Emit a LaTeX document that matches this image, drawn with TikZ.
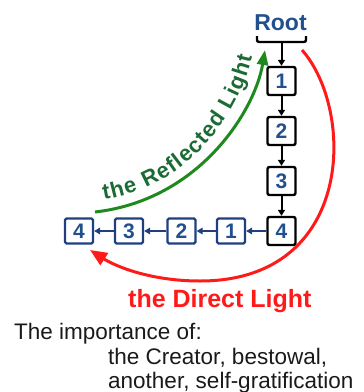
\documentclass[tikz,border=0pt]{standalone}
\usepackage{fontspec}
\setmainfont{Liberation Sans}
\usetikzlibrary{arrows.meta,decorations.text}
\definecolor{nblue}{HTML}{1F3F7F}
\definecolor{tblue}{HTML}{22508F}
\definecolor{agreen}{HTML}{1E8A1E}
\definecolor{tgreen}{HTML}{1C6B35}
\definecolor{ared}{HTML}{FF1A1A}
\definecolor{txt}{HTML}{1A1A1A}
\begin{document}
\begin{tikzpicture}[x=1pt,y=-1pt,
  digit/.style={font=\fontsize{21}{21}\selectfont\bfseries, text=tblue, inner sep=0pt},
  kbox/.style={digit, draw=black, line width=2.4pt, rounded corners=2pt, minimum width=28pt, minimum height=28pt},
  bbox/.style={digit, draw=nblue, line width=2.2pt, rounded corners=1.5pt, minimum width=28pt, minimum height=25pt},
  karrow/.style={draw=black, line width=2pt, -{Triangle[length=6pt,width=7pt]}},
  barrow/.style={draw=nblue, line width=2pt, -{Triangle[length=6pt,width=6.5pt]}},
  garrow/.style={draw=agreen, line width=3pt, -{Triangle[length=15pt,width=11pt]}},
  rarrow/.style={draw=ared, line width=3pt, -{Triangle[length=17pt,width=14pt]}},
  lbl/.style={inner sep=0pt, anchor=base west},
  btxt/.style={lbl, text=txt, font=\fontsize{22.5}{22.5}\selectfont}
]
\useasboundingbox (0,0) rectangle (364,392);

% root
\node[inner sep=0pt, anchor=base, text=tblue, font=\fontsize{23}{23}\selectfont\bfseries] (root) at (280.5,30) {Root};
\coordinate (brL) at (257,36);
\coordinate (brR) at (306,36);
\coordinate (brC) at (281.5,42);
\draw[line width=2.4pt, rounded corners=2pt] (brL) -- (257,42) -- (306,42) -- (brR);

% vertical chain
\node[kbox] (k1) at (281.5,81) {1};
\node[kbox] (k2) at (281.5,131) {2};
\node[kbox] (k3) at (281.5,181) {3};
\node[kbox] (k4) at (281.5,231) {4};

% horizontal row
\node[bbox] (b1) at (231,231) {1};
\node[bbox] (b2) at (181.5,231) {2};
\node[bbox] (b3) at (129,231) {3};
\node[bbox] (b4) at (79,231) {4};

\draw[karrow] (brC) -- (k1);
\draw[karrow] (k1) -- (k2);
\draw[karrow] (k2) -- (k3);
\draw[karrow] (k3) -- (k4);

\draw[barrow] (k4) -- (b1);
\draw[barrow] (b1) -- (b2);
\draw[barrow] (b2) -- (b3);
\draw[barrow] (b3) -- (b4);

% reflected light
\coordinate (gs) at (95,212);
\coordinate (gt) at (265,50);
\draw[garrow] (gs) .. controls (200,200) and (255,110) .. (gt);
\path[decorate, decoration={text along path, text align={left indent=8pt, right indent=10pt, fit to path}, text color=tgreen,
   text={|\fontsize{22}{22}\selectfont\bfseries|the Reflected Light}}]
   (96,201) .. controls (194,189) and (245,106) .. (254,47);

% direct light
\coordinate (rs) at (302,50);
\coordinate (rt) at (90,250);
\draw[rarrow] (rs) .. controls (355,110) and (355,281) .. (200,281)
   .. controls (150,281) and (115,266) .. (rt);
\node[lbl, text=ared, font=\fontsize{25}{25}\selectfont\bfseries] (dl) at (128,307) {the Direct Light};

% bottom text
\node[btxt] (t1) at (14,339) {The importance of:};
\node[btxt] (t2) at (108,364) {the Creator, bestowal,};
\node[btxt] (t3) at (108,388) {another, self-gratification};
\end{tikzpicture}
\end{document}
